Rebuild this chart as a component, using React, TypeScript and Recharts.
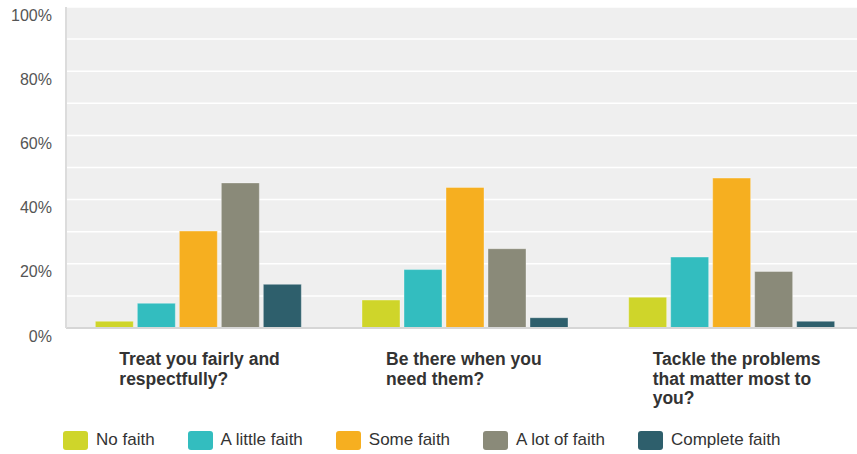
import { BarChart, Bar, XAxis, YAxis, CartesianGrid, Legend } from 'recharts'

// Survey: how much faith respondents have that the service will...
const categories = [
  'Treat you fairly and respectfully?',
  'Be there when you need them?',
  'Tackle the problems that matter most to you?',
]

const seriesNames = ['No faith', 'A little faith', 'Some faith', 'A lot of faith', 'Complete faith']
const seriesKeys = ['none', 'little', 'some', 'lot', 'complete']
const seriesColors = ['#cfd52a', '#33bdbf', '#f6af20', '#8a8a79', '#2e5f6c']

const noFaith = [2.1, 8.7, 9.6]
const littleFaith = [7.7, 18.2, 22.1]
const someFaith = [30.2, 43.8, 46.7]
const lotOfFaith = [45.2, 24.7, 17.6]
const completeFaith = [13.6, 3.2, 2.1]

// grid every 10%, labels every 20%
const yTicks = [0, 10, 20, 30, 40, 50, 60, 70, 80, 90, 100]

const seriesValues = [noFaith, littleFaith, someFaith, lotOfFaith, completeFaith]

const data = categories.map((name, i) => {
  const row: Record<string, string | number> = { name }
  seriesKeys.forEach((key, s) => {
    row[key] = seriesValues[s][i]
  })
  return row
})

const FONT = '"Liberation Sans", Arial, sans-serif'

function wrapWords(text: string, maxChars: number) {
  const lines: string[] = []
  let line = ''
  text.split(' ').forEach((word) => {
    const next = line ? line + ' ' + word : word
    if (next.length > maxChars && line) {
      lines.push(line)
      line = word
    } else {
      line = next
    }
  })
  if (line) lines.push(line)
  return lines
}

function YTick(props: any) {
  const { x, y, payload } = props
  if (payload.value % 20 !== 0) return null
  return (
    <text x={x} y={y + 8} textAnchor="end" dominantBaseline="central" fontSize={16} fill="#555" fontFamily={FONT}>
      {payload.value}%
    </text>
  )
}

function XTick(props: any) {
  const { x, y, payload } = props
  const lines = wrapWords(payload.value, 20)
  return (
    <text x={x - 80} y={y + 35} textAnchor="start" fontSize={17.5} fontWeight="bold" fill="#333" fontFamily={FONT}>
      {lines.map((line, i) => (
        <tspan key={i} x={x - 80} dy={i === 0 ? 0 : 19.5}>
          {line}
        </tspan>
      ))}
    </text>
  )
}

function LegendContent() {
  return (
    <div style={{ display: 'flex', alignItems: 'center', fontFamily: FONT, fontSize: 17, color: '#333' }}>
      {seriesNames.map((name, i) => (
        <div key={name} style={{ display: 'flex', alignItems: 'center', marginRight: 33 }}>
          <span
            style={{
              display: 'inline-block',
              width: 25,
              height: 19,
              borderRadius: 3,
              background: seriesColors[i],
              marginRight: 8,
            }}
          />
          <span>{name}</span>
        </div>
      ))}
    </div>
  )
}

export default function App() {
  return (
    <div style={{ position: 'absolute', left: 0, top: 0, width: 857, height: 454, overflow: 'hidden', background: '#fff' }}>
      <BarChart
        width={866}
        height={454}
        data={data}
        margin={{ top: 7, right: 0, bottom: 0, left: 0 }}
        barCategoryGap="11%"
        barGap={4}
      >
        <CartesianGrid vertical={false} fill="#efefef" stroke="#ffffff" strokeWidth={1.5} />
        <XAxis
          dataKey="name"
          height={90}
          tickLine={false}
          tickSize={0}
          axisLine={{ stroke: '#d6d6d6', strokeWidth: 2 }}
          tick={<XTick />}
          interval={0}
        />
        <YAxis
          width={66}
          domain={[0, 100]}
          ticks={yTicks}
          interval={0}
          tickLine={false}
          tickSize={0}
          tickMargin={14}
          axisLine={{ stroke: '#dcdcdc', strokeWidth: 2 }}
          tick={<YTick />}
        />
        <Legend
          verticalAlign="bottom"
          align="left"
          height={36}
          content={<LegendContent />}
          wrapperStyle={{ left: 63, top: 430, width: 'auto' }}
        />
        {seriesKeys.map((key, i) => (
          <Bar
            key={key}
            dataKey={key}
            name={seriesNames[i]}
            fill={seriesColors[i]}
            stroke="#ffffff"
            strokeOpacity={0.35}
            strokeWidth={1}
            isAnimationActive={false}
          />
        ))}
      </BarChart>
    </div>
  )
}
